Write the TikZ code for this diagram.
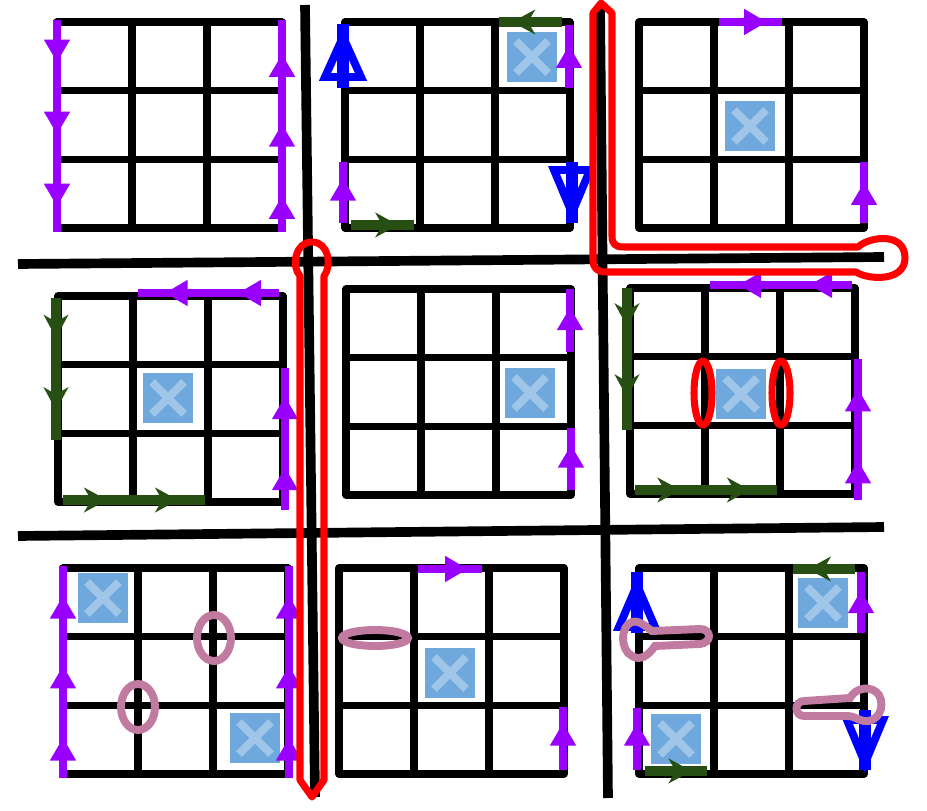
\documentclass[tikz,border=0pt]{standalone}
\usepackage{xcolor}
\usepackage{tikz}
\usetikzlibrary{arrows.meta,decorations.markings}

\definecolor{viocol}{HTML}{9900FF}
\definecolor{grncol}{HTML}{274E13}
\definecolor{redcol}{HTML}{FF0000}
\definecolor{maucol}{HTML}{C27BA0}
\definecolor{xfill}{HTML}{6FA8DC}
\definecolor{xline}{HTML}{9FC5E8}

\tikzset{
  gridln/.style={line width=4pt, line join=round, line cap=round},
  sepln/.style={line width=5.5pt},
  violn/.style={draw=viocol, line width=5pt},
  grnln/.style={draw=grncol, line width=6pt},
  bluln/.style={draw=blue, line width=7pt},
  blutri/.style={draw=blue, line width=4.5pt, line join=miter},
  redln/.style={draw=redcol, line width=4pt, line join=round},
  mauln/.style={draw=maucol, line width=4.5pt},
  vtip/.style={postaction={decorate, decoration={markings,
    mark=at position #1 with {\arrow[viocol]{Triangle[length=13pt, width=14pt]}}}}},
  gtip/.style={postaction={decorate, decoration={markings,
    mark=at position #1 with {\arrow[grncol]{Stealth[length=13pt, width=14pt, inset=4pt]}}}}},
}

% blocked cell: top left corner, 50 x 50
\newcommand\xbox[2]{%
  \fill[xfill] (#1,#2) rectangle ++(50,50);
  \draw[xline, line width=4.5pt] (#1+9,#2+9) -- ++(32,32) (#1+41,#2+9) -- ++(-32,32);}

% blue arrow: x, from y, to y, tip y, base y
\newcommand\bluarr[5]{%
  \draw[blutri] (#1,#4) -- (#1-18,#5) -- (#1+18,#5) -- cycle;
  \draw[bluln] (#1,#2) -- (#1,#3);}

\begin{document}
\begin{tikzpicture}[x=0.02cm, y=-0.02cm]
  \useasboundingbox (0,0) rectangle (927,811);

  % Separators
  \draw[sepln] (305,5) -- (315,797);
  \draw[sepln] (600,5) -- (608,798);
  \draw[sepln] (18,264) -- (884,257);
  \draw[sepln] (18,536) -- (884,527);

  % 3x3 grids
  \foreach \gx/\gy in {57/22, 345/22, 639/22, 58/296, 346/289, 630/288, 63/568, 339/568, 639/568} {
    \draw[gridln] (\gx,\gy) rectangle ++(225,206);
    \foreach \k in {1,2} {
      \draw[gridln] (\gx+75*\k,\gy) -- ++(0,206);
      \draw[gridln] (\gx,\gy+68.7*\k) -- ++(225,0);
    }
  }

  % Blocked cells
  \xbox{507}{32}
  \xbox{725}{101}
  \xbox{143}{373}
  \xbox{505}{368}
  \xbox{716}{369}
  \xbox{78}{573}
  \xbox{230}{713}
  \xbox{425}{648}
  \xbox{798}{578}
  \xbox{651}{714}

  % Grid 1
  \draw[violn, vtip=0.2, vtip=0.54, vtip=0.88] (57,20) -- (57,232);
  \draw[violn, vtip=0.17, vtip=0.51, vtip=0.84] (282,232) -- (282,20);

  % Grid 2
  \bluarr{343}{88}{24}{37}{77}
  \draw[grnln, gtip=0.79] (562,22) -- (499,22);
  \draw[violn, vtip=0.68] (569,88) -- (569,25);
  \draw[violn, vtip=0.74] (343,223) -- (343,162);
  \draw[grnln, gtip=0.75] (351,225) -- (414,225);
  \bluarr{572}{162}{223}{213}{170}

  % Grid 3
  \draw[violn, vtip=0.76] (719,22) -- (782,22);
  \draw[violn, vtip=0.67] (864,223) -- (864,162);

  % Grid 4
  \draw[violn, vtip=0.29, vtip=0.81] (279,293) -- (138,293);
  \draw[grnln, gtip=0.28, gtip=0.79] (56,298) -- (56,440);
  \draw[grnln, gtip=0.31, gtip=0.81] (63,500) -- (205,500);
  \draw[violn, vtip=0.3, vtip=0.8] (285,510) -- (285,368);

  % Grid 5
  \draw[violn, vtip=0.71] (570,352) -- (570,289);
  \draw[violn, vtip=0.73] (571,490) -- (571,428);

  % Grid 6
  \draw[violn, vtip=0.3, vtip=0.8] (852,285) -- (710,285);
  \draw[grnln, gtip=0.27, gtip=0.77] (627,288) -- (627,430);
  \draw[grnln, gtip=0.32, gtip=0.81] (635,490) -- (777,490);
  \draw[violn, vtip=0.28, vtip=0.79] (858,500) -- (858,359);
  \draw[redln] (703,393) ellipse [x radius=9, y radius=32];
  \draw[redln] (781,393) ellipse [x radius=9, y radius=32];

  % Grid 7
  \draw[violn, vtip=0.19, vtip=0.53, vtip=0.86] (63,778) -- (63,566);
  \draw[violn, vtip=0.19, vtip=0.53, vtip=0.86] (289,778) -- (289,566);
  \draw[mauln] (214,638) ellipse [x radius=17, y radius=23];
  \draw[mauln] (138,707) ellipse [x radius=17, y radius=23];

  % Grid 8
  \draw[violn, vtip=0.78] (418,569) -- (482,569);
  \draw[violn, vtip=0.75] (563,770) -- (563,707);
  \draw[mauln] (375,638) ellipse [x radius=33, y radius=8];

  % Grid 9
  \draw[grnln, gtip=0.76] (855,569) -- (793,569);
  \draw[violn, vtip=0.7] (861,633) -- (861,572);
  \bluarr{637}{633}{572}{585}{627}
  \draw[violn, vtip=0.76] (637,770) -- (637,708);
  \draw[grnln, gtip=0.75] (645,771) -- (707,771);
  \bluarr{865}{710}{770}{763}{720}
  \draw[mauln] (652,631) -- (700,629) .. controls (712,629) and (712,643) .. (700,644)
    -- (655,646) .. controls (648,656) and (640,661) .. (632,656)
    .. controls (620,650) and (620,626) .. (632,622) .. controls (640,620) and (646,627) .. (652,631) -- cycle;
  \draw[mauln] (850,698) .. controls (856,687) and (872,685) .. (879,695)
    .. controls (886,708) and (877,723) .. (864,721) .. controls (858,720) and (854,716) .. (848,716)
    -- (804,716) .. controls (794,716) and (794,701) .. (804,701) -- cycle;

  % Red loops round the separators
  \draw[redln] (300,780) -- (300,276) .. controls (291,266) and (295,242) .. (312,242)
    .. controls (329,242) and (332,266) .. (324,276) -- (324,780) -- (312,797) -- cycle;
  \draw[redln] (601,3) -- (612,13) -- (612,236) .. controls (612,244) and (615,247) .. (624,247)
    -- (858,247) .. controls (870,236) and (905,232) .. (905,258)
    .. controls (905,282) and (868,280) .. (856,272) -- (606,272)
    .. controls (597,272) and (593,268) .. (593,260) -- (593,13) -- cycle;
\end{tikzpicture}
\end{document}
